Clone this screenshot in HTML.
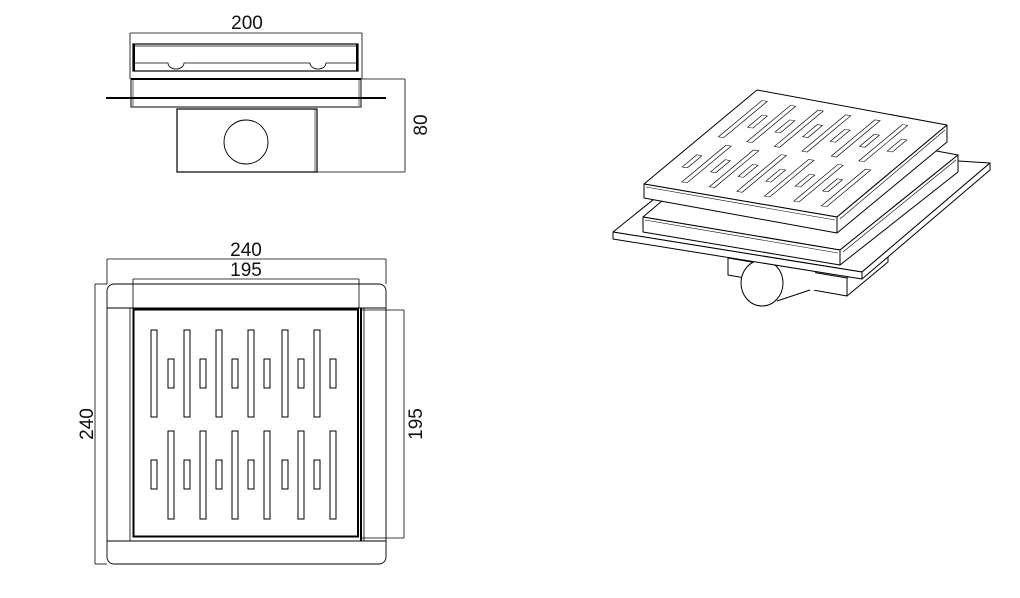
<!DOCTYPE html>
<html><head><meta charset="utf-8"><style>
html,body{margin:0;padding:0;background:#fff;}
svg{display:block;}
text{font-family:"Liberation Sans",sans-serif;font-size:19px;fill:#111;}
</style></head><body>
<svg width="1020" height="598" viewBox="0 0 1020 598" xmlns="http://www.w3.org/2000/svg">
<defs>
<g id="slots" fill="#fff" stroke="#000" stroke-width="1" vector-effect="non-scaling-stroke">
 <!-- top row long -->
 <rect x="151" y="330" width="6" height="87"/><rect x="184" y="330" width="6" height="87"/><rect x="216" y="330" width="6" height="87"/><rect x="248" y="330" width="6" height="87"/><rect x="282" y="330" width="6" height="87"/><rect x="314" y="330" width="6" height="87"/>
 <!-- top row short -->
 <rect x="168" y="359" width="6" height="29"/><rect x="200" y="359" width="6" height="29"/><rect x="232" y="359" width="6" height="29"/><rect x="264" y="359" width="6" height="29"/><rect x="298" y="359" width="6" height="29"/><rect x="330" y="359" width="6" height="29"/>
 <!-- bottom row short -->
 <rect x="151" y="460" width="6" height="29"/><rect x="184" y="460" width="6" height="29"/><rect x="216" y="460" width="6" height="29"/><rect x="248" y="460" width="6" height="29"/><rect x="282" y="460" width="6" height="29"/><rect x="314" y="460" width="6" height="29"/>
 <!-- bottom row long -->
 <rect x="168" y="431" width="6" height="88"/><rect x="200" y="431" width="6" height="88"/><rect x="232" y="431" width="6" height="88"/><rect x="264" y="431" width="6" height="88"/><rect x="298" y="431" width="6" height="88"/><rect x="330" y="431" width="6" height="88"/>
</g>
</defs>

<g fill="none" stroke="#000">
<!-- ===== Top elevation ===== -->
<line x1="130" y1="33" x2="362" y2="33" stroke-width="0.8"/>
<line x1="130" y1="33" x2="130" y2="79" stroke-width="0.8"/>
<line x1="362" y1="33" x2="362" y2="79" stroke-width="0.8"/>
<rect x="133" y="44" width="225" height="27" stroke-width="1.2"/>
<line x1="134" y1="46" x2="357" y2="46" stroke-width="0.8"/>
<path d="M135 63 H168 A8 6 0 0 0 184 63 H310 A8 6 0 0 0 326 63 H357" stroke-width="0.8"/>
<line x1="134" y1="44" x2="134" y2="71" stroke-width="2"/>
<line x1="357" y1="44" x2="357" y2="71" stroke-width="2"/>
<rect x="131" y="79" width="230" height="28" stroke-width="1"/>
<line x1="131" y1="79" x2="361" y2="79" stroke-width="2"/>
<line x1="133" y1="80" x2="133" y2="106" stroke-width="0.6"/>
<line x1="359" y1="80" x2="359" y2="106" stroke-width="0.6"/>
<line x1="106" y1="98" x2="386" y2="98" stroke-width="2"/>
<rect x="177" y="109" width="140" height="63" stroke-width="1.2"/>
<line x1="315" y1="109" x2="315" y2="172" stroke-width="0.6"/>
<circle cx="246" cy="142" r="22" stroke-width="0.9"/>
<line x1="361" y1="79" x2="405" y2="79" stroke-width="0.8"/>
<line x1="317" y1="172" x2="405" y2="172" stroke-width="0.8"/>
<line x1="405" y1="79" x2="405" y2="172" stroke-width="0.8"/>

<!-- ===== Plan view ===== -->
<line x1="107" y1="259" x2="386" y2="259" stroke-width="0.8"/>
<line x1="107" y1="259" x2="107" y2="284" stroke-width="0.8"/>
<line x1="386" y1="259" x2="386" y2="284" stroke-width="0.8"/>
<line x1="133" y1="279" x2="359" y2="279" stroke-width="0.8"/>
<line x1="133" y1="279" x2="133" y2="308" stroke-width="0.8"/>
<line x1="359" y1="279" x2="359" y2="308" stroke-width="0.8"/>
<rect x="107" y="284" width="279" height="280" rx="7" stroke-width="0.9"/>
<line x1="107" y1="308" x2="386" y2="308" stroke-width="0.9"/>
<line x1="107" y1="541" x2="386" y2="541" stroke-width="0.9"/>
<line x1="130" y1="308" x2="130" y2="541" stroke-width="0.8"/>
<rect x="133.5" y="309.5" width="224.5" height="227" stroke-width="2"/>
<line x1="361" y1="308" x2="361" y2="541" stroke-width="2"/>
<line x1="364" y1="308" x2="364" y2="541" stroke-width="0.8"/>
<line x1="95" y1="284" x2="95" y2="564" stroke-width="0.8"/>
<line x1="95" y1="284" x2="107" y2="284" stroke-width="0.8"/>
<line x1="95" y1="564" x2="107" y2="564" stroke-width="0.8"/>
<line x1="361" y1="310" x2="404" y2="310" stroke-width="0.8"/>
<line x1="361" y1="538" x2="404" y2="538" stroke-width="0.8"/>
<line x1="404" y1="310" x2="404" y2="538" stroke-width="0.8"/>
</g>
<use href="#slots"/>

<!-- ===== Isometric ===== -->
<g stroke="#000" stroke-width="1" fill="#fff" stroke-linejoin="round">
 <!-- pipe and body below flange -->
 <polygon points="728,258 847,278 847,296 728,275"/>
 <polygon points="847,278 888,245 888,262 847,296"/>
 <path d="M770 262 L815 255 L815 290 L776 300 Z" stroke="none"/>
 <line x1="770" y1="262" x2="812" y2="256"/>
 <line x1="777" y1="301" x2="810" y2="290"/>
 <ellipse cx="762" cy="283" rx="21" ry="23"/>
 <!-- flange -->
 <polygon points="613,232 720,146 990,163 862,272"/>
 <polygon points="613,232 862,272 862,279 613,239"/>
 <polygon points="862,272 990,163 990,170 862,279"/>
 <!-- frame -->
 <polygon points="643,217 760,118 958,155 840,250"/>
 <polygon points="643,217 840,250 840,265 643,232"/>
 <polygon points="840,250 958,155 958,172 840,265"/>
 <line x1="645" y1="220" x2="838" y2="253" stroke-width="0.6"/>
 <line x1="843" y1="252" x2="956" y2="160" stroke-width="0.6"/>
 <!-- grate -->
 <polygon points="644,184 757,90 947,125 837,217"/>
 <polygon points="644,184 837,217 837,233 644,198"/>
 <polygon points="837,217 947,125 947,142 837,233"/>
 <line x1="646" y1="187" x2="835" y2="220" stroke-width="0.6"/>
 <line x1="840" y1="219" x2="945" y2="130" stroke-width="0.6"/>
</g>
<g transform="matrix(0.8616,0.1473,-0.5022,0.4178,797.7,-59.6)">
 <use href="#slots"/>
</g>

<!-- labels -->
<text x="247" y="29" text-anchor="middle">200</text>
<text x="246" y="256" text-anchor="middle">240</text>
<text x="246" y="276" text-anchor="middle">195</text>
<text transform="translate(427,125) rotate(-90)" text-anchor="middle">80</text>
<text transform="translate(93,424) rotate(-90)" text-anchor="middle">240</text>
<text transform="translate(422,424) rotate(-90)" text-anchor="middle">195</text>
</svg>
</body></html>
